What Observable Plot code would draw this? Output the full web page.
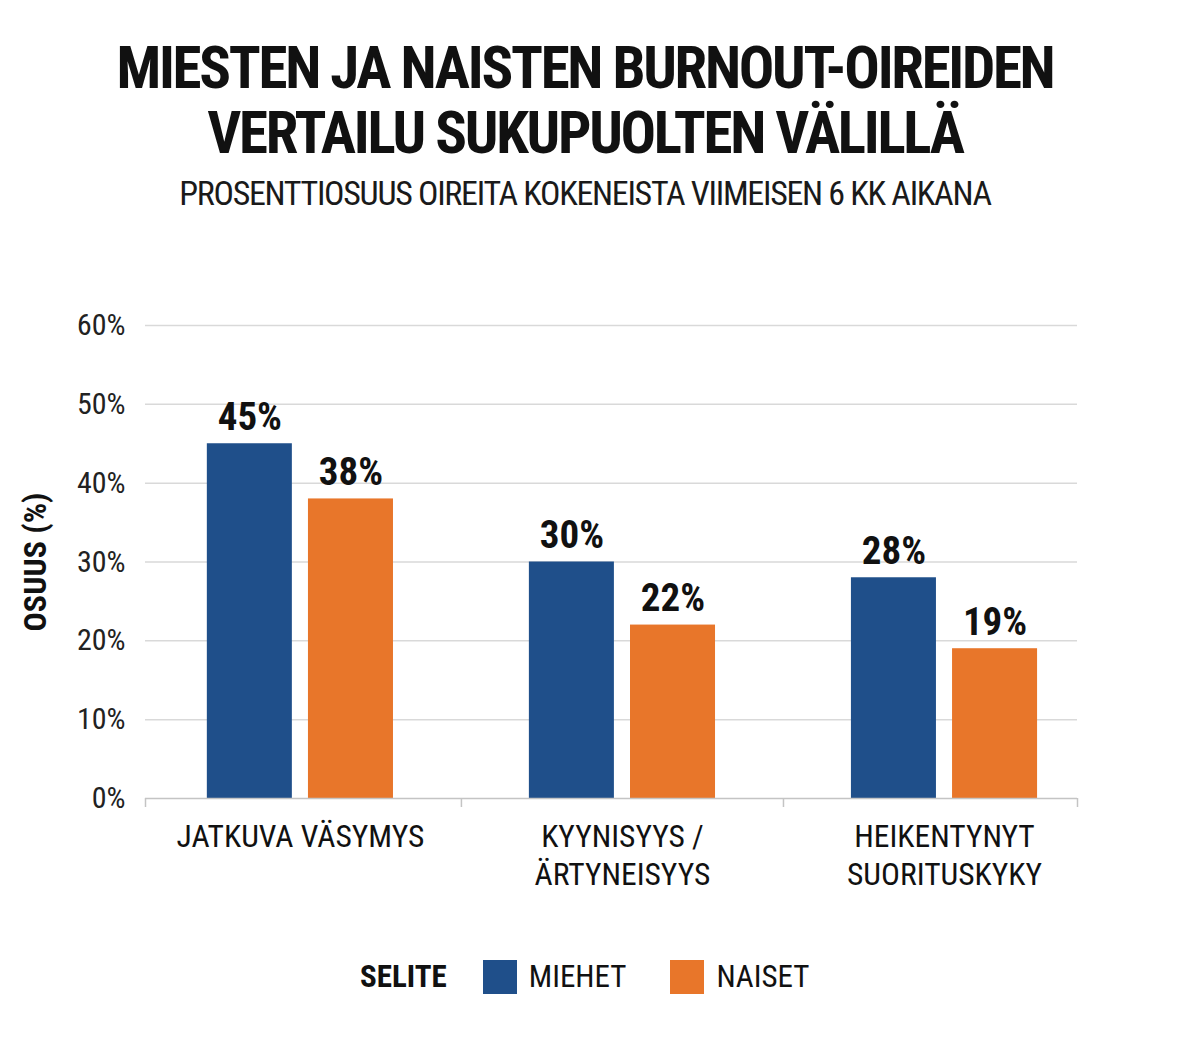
<!DOCTYPE html>
<html><head><meta charset="utf-8">
<script src="https://cdn.jsdelivr.net/npm/d3@7"></script>
<script src="https://cdn.jsdelivr.net/npm/@observablehq/plot@0.6"></script>
<style>
  body { margin: 0; background: #fff; }
  #wrap { position: relative; width: 1180px; height: 1042px; background: #fff;
    font-family: "Roboto Condensed", "Liberation Sans Narrow", "DejaVu Sans Condensed", Roboto, sans-serif;
    font-stretch: condensed; color: #111; }
  #title { position: absolute; left: 0; top: 35px; width: 1170px; text-align: center;
    font-weight: 700; font-size: 59px; line-height: 65px; letter-spacing: -2.3px; }
  #subtitle { position: absolute; left: 0; top: 173px; width: 1170px; text-align: center;
    font-size: 34px; line-height: 40px; color: #1a1a1a; letter-spacing: -1.3px; }
  #chart { position: absolute; left: 0; top: 230px; }
  #legend { position: absolute; left: 360px; top: 958px; display: flex; align-items: center;
    font-size: 31px; line-height: 38px; }
  #legend .head { font-weight: 700; margin-right: 36px; }
  #legend .sw { width: 34px; height: 34px; margin-right: 12px; }
  #legend .lab { margin-right: 44px; }
</style>
</head>
<body>
<div id="wrap">
  <div id="title"></div>
  <div id="subtitle"></div>
  <div id="chart"></div>
  <div id="legend"></div>
</div>
<script>
const titleLines = ["MIESTEN JA NAISTEN BURNOUT-OIREIDEN", "VERTAILU SUKUPUOLTEN VÄLILLÄ"];
const subtitle = "PROSENTTIOSUUS OIREITA KOKENEISTA VIIMEISEN 6 KK AIKANA";
const categories = ["JATKUVA VÄSYMYS", "KYYNISYYS /\nÄRTYNEISYYS", "HEIKENTYNYT\nSUORITUSKYKY"];
const seriesNames = ["MIEHET", "NAISET"];
const miehet = [45, 30, 28];
const naiset = [38, 22, 19];
const yTicks = [0, 10, 20, 30, 40, 50, 60];
const yLabel = "OSUUS (%)";
const legendTitle = "SELITE";
const colors = ["#1f4f8a", "#e8762a"];

const FONT = '"Roboto Condensed", "Liberation Sans Narrow", "DejaVu Sans Condensed", Roboto, sans-serif';

document.getElementById("title").innerHTML = titleLines.join("<br>");
document.getElementById("subtitle").textContent = subtitle;

const rows = categories.flatMap((c, i) => [
  {cat: c, i, s: seriesNames[0], v: miehet[i]},
  {cat: c, i, s: seriesNames[1], v: naiset[i]}
]);

const GAP = 0.025, OUT = 0.289;
const bx1 = d => d.s === seriesNames[0] ? d.i + 0.5 - OUT : d.i + 0.5 + GAP;
const bx2 = d => d.s === seriesNames[0] ? d.i + 0.5 - GAP : d.i + 0.5 + OUT;
const bxc = d => (bx1(d) + bx2(d)) / 2;
const xDomain = [0.019, 2.913];

const chart = Plot.plot({
  width: 1180,
  height: 690,
  marginTop: 95,
  marginBottom: 122,
  marginLeft: 145,
  marginRight: 103,
  style: {fontFamily: FONT, background: "transparent", color: "#222"},
  x: {type: "linear", domain: xDomain, axis: null},
  y: {domain: [0, 60], axis: null},
  color: {domain: seriesNames, range: colors},
  marks: [
    Plot.ruleY(yTicks.filter(t => t > 0), {stroke: "#d9d9d9", strokeWidth: 1.5}),
    Plot.axisY({ticks: yTicks, tickSize: 0, tickPadding: 20, tickFormat: d => d + "%",
      fontSize: 30, fill: "#222", label: null}),
    Plot.rectY(rows, {x1: bx1, x2: bx2, y: "v", fill: "s"}),
    Plot.ruleY([0], {stroke: "#c4c4c4", strokeWidth: 1.5}),
    Plot.axisX({ticks: [xDomain[0], 1, 2, xDomain[1]], tickSize: 9, tickFormat: () => "",
      stroke: "#c4c4c4", strokeWidth: 1.5, label: null}),
    Plot.text(categories, {x: (d, i) => i + 0.5, frameAnchor: "bottom", lineAnchor: "top",
      dy: 21, fontSize: 31.5, lineHeight: 1.22, fill: "#111", text: d => d}),
    Plot.text(rows, {x: bxc, y: "v", text: d => d.v + "%", lineAnchor: "bottom", dy: -14,
      fontSize: 39, fontWeight: 700, fill: "#111"}),
    Plot.text([yLabel], {frameAnchor: "left", textAnchor: "middle", dx: -110, rotate: -90,
      fontSize: 32, fontWeight: 700, fill: "#111", text: d => d})
  ]
});
document.getElementById("chart").appendChild(chart);

const legend = document.getElementById("legend");
const head = document.createElement("span");
head.className = "head"; head.textContent = legendTitle;
legend.appendChild(head);
seriesNames.forEach((s, k) => {
  const sw = document.createElement("span");
  sw.className = "sw"; sw.style.background = colors[k];
  const lab = document.createElement("span");
  lab.className = "lab"; lab.textContent = s;
  legend.appendChild(sw); legend.appendChild(lab);
});
</script>
</body></html>
